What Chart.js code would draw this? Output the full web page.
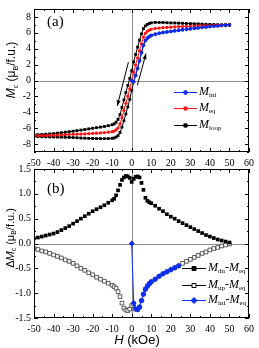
<!DOCTYPE html>
<html>
<head>
<meta charset="utf-8">
<script src="https://cdn.jsdelivr.net/npm/chart.js@4.4.0/dist/chart.umd.min.js"></script>
<style>
  html, body { margin: 0; padding: 0; background: #fff; }
  #wrap { position: relative; width: 259px; height: 348px; overflow: hidden; }
  canvas { position: absolute; left: 0; }
  #chartA { top: 0; }
  #chartB { top: 160px; }
</style>
</head>
<body>
<div id="wrap">
  <canvas id="chartA" width="259" height="170"></canvas>
  <canvas id="chartB" width="259" height="188"></canvas>
</div>
<script>
// field grid (kOe)
const H = [-50,-48,-46,-44,-42,-40,-38,-36,-34,-32,-30,-28,-26,-24,-22,-20,-18,-16,-14,-12,-10,
    -9,-8,-7,-6,-5,-4,-3,-2,-1, 0, 1,2,3,4,5,6,7,8,9,
    10,12,14,16,18,20,22,24,26,28,30,32,34,36,38,40,42,44,46,48,50];

// panel (a)
const M_eq = [-6.95,-6.94,-6.93,-6.92,-6.90,-6.88,-6.86,-6.84,-6.82,-6.80,-6.78,-6.76,-6.74,-6.72,-6.69,-6.66,-6.63,-6.60,-6.56,-6.51,-6.44,
    -6.36,-6.22,-5.97,-5.47,-4.67,-3.77,-2.87,-1.97,-1.05, 0,
    1.05,1.95,2.85,3.75,4.65,5.45,5.95,6.20,6.35,
    6.45,6.55,6.60,6.65,6.68,6.71,6.74,6.77,6.79,6.81,6.83,6.85,6.87,6.89,6.91,6.92,6.94,6.95,6.96,6.98,7.00];
const M_dn = [-6.85,-6.82,-6.79,-6.76,-6.72,-6.68,-6.63,-6.57,-6.51,-6.45,-6.38,-6.31,-6.24,-6.17,-6.09,-6.01,-5.94,-5.87,-5.79,-5.69,-5.57,
    -5.46,-5.25,-4.90,-4.29,-3.39,-2.44,-1.51,-0.62,0.27, 1.24,
    2.35,3.29,4.20,5.08,5.87,6.53,6.87,7.06,7.18,
    7.26,7.31,7.30,7.30,7.27,7.25,7.24,7.22,7.20,7.18,7.16,7.14,7.12,7.10,7.08,7.06,7.05,7.03,7.02,7.02,7.02];
const M_up = [-7.05,-7.06,-7.08,-7.09,-7.10,-7.11,-7.12,-7.13,-7.15,-7.16,-7.18,-7.21,-7.24,-7.26,-7.28,-7.29,-7.31,-7.32,-7.32,-7.31,-7.28,
    -7.23,-7.12,-6.94,-6.54,-5.87,-5.07,-4.21,-3.32,-2.37, -1.25,
    -0.17,0.63,1.52,2.47,3.50,4.43,5.03,5.34,5.54,
    5.68,5.83,5.94,6.04,6.11,6.18,6.25,6.32,6.39,6.45,6.51,6.57,6.63,6.69,6.74,6.79,6.84,6.87,6.91,6.95,6.99];
const H_ini = [0,1,2,3,4,5,6,7,8,9,10,12,14,16,18,20,22,24,26,28,30,32,34,36,38,40,42,44,46,48,50];
const M_ini = [0,-0.15,0.63,1.52,2.47,3.50,4.43,5.03,5.34,5.54,
    5.68,5.83,5.94,6.04,6.11,6.18,6.25,6.32,6.39,6.45,6.51,6.57,6.63,6.69,6.74,6.79,6.84,6.87,6.91,6.95,6.99];

// panel (b)
const dM_dn = [0.10,0.12,0.14,0.16,0.18,0.20,0.23,0.27,0.31,0.35,0.40,0.45,0.50,0.55,0.60,0.65,0.69,0.73,0.77,0.82,0.87,
    0.90,0.97,1.07,1.18,1.28,1.33,1.36,1.35,1.32, 1.24,
    1.30,1.34,1.35,1.33,1.22,1.08,0.92,0.86,0.83,
    0.81,0.76,0.70,0.65,0.59,0.54,0.50,0.45,0.41,0.37,0.33,0.29,0.25,0.21,0.17,0.14,0.11,0.08,0.06,0.04,0.02];
const dM_up = [-0.10,-0.12,-0.15,-0.17,-0.20,-0.23,-0.26,-0.29,-0.33,-0.36,-0.40,-0.45,-0.50,-0.54,-0.59,-0.63,-0.68,-0.72,-0.76,-0.80,-0.84,
    -0.87,-0.90,-0.97,-1.07,-1.20,-1.30,-1.34,-1.35,-1.32, -1.25,
    -1.22,-1.32,-1.33,-1.28,-1.15,-1.02,-0.92,-0.86,-0.81,
    -0.77,-0.72,-0.66,-0.61,-0.57,-0.53,-0.49,-0.45,-0.40,-0.36,-0.32,-0.28,-0.24,-0.20,-0.17,-0.13,-0.10,-0.08,-0.05,-0.03,-0.01];
const H_ini_b = [0,1,2,3,4,5,6,7,8,9,10,12,14,16,18,20,22,24];
const dM_ini = [0.00,-1.20,-1.32,-1.33,-1.28,-1.15,-1.02,-0.92,-0.86,-0.81,-0.77,-0.72,-0.66,-0.61,-0.57,-0.53,-0.49,-0.45];

// ticks
const ticksX = [-50,-40,-30,-20,-10,0,10,20,30,40,50,60];
const ticksYa = [-8,-6,-4,-2,0,2,4,6,8];
const ticksYb = [-1.5,-1.0,-0.5,0.0,0.5,1.0,1.5];

// sweep arrows on the loop [H1, M1, H2, M2] (head at 2)
const arrows = [[-1.7, 2.3, -7.4, -3.2], [2.9, -0.6, 7.3, 3.4]];

const BLUE = '#0a2cff';
const RED = '#ff1010';
const SERIF = '"Liberation Serif", "Times New Roman", serif';
const SANS = '"Liberation Sans", Arial, sans-serif';

function pts(xs, ys) {
    return xs.map((x, i) => ({ x: x, y: ys[i] }));
}

// loop: down branch from +50 to -50, then up branch back to +50
const loopPts = pts(H.slice().reverse(), M_dn.slice().reverse()).concat(pts(H, M_up));

function marker(ctx, style, x, y, r, fill, stroke) {
    ctx.save();
    ctx.beginPath();
    if (style === 'rect') {
        ctx.rect(x - r, y - r, 2 * r, 2 * r);
    } else if (style === 'rectRot') {
        ctx.moveTo(x, y - r); ctx.lineTo(x + r, y); ctx.lineTo(x, y + r); ctx.lineTo(x - r, y); ctx.closePath();
    } else {
        ctx.arc(x, y, r, 0, Math.PI * 2);
    }
    ctx.fillStyle = fill;
    ctx.fill();
    ctx.strokeStyle = stroke;
    ctx.lineWidth = 1;
    ctx.stroke();
    ctx.restore();
}

// parts: [text, kind]  kind: 'i' italic, 'n' normal, 's' subscript
function richText(ctx, parts, x, y, size, family, measureOnly) {
    let w = 0;
    for (const p of parts) {
        let f;
        if (p[1] === 'i') f = 'italic ' + size + 'px ' + family;
        else if (p[1] === 's') f = Math.round(size * 0.62) + 'px ' + family;
        else f = size + 'px ' + family;
        ctx.font = f;
        if (!measureOnly) ctx.fillText(p[0], x + w, y + (p[1] === 's' ? size * 0.3 : 0));
        w += ctx.measureText(p[0]).width;
    }
    return w;
}

function frameTicks(chart, xMinor, yMinor) {
    const ctx = chart.ctx;
    const a = chart.chartArea;
    const xs = chart.scales.x, ys = chart.scales.y;
    ctx.save();
    ctx.strokeStyle = '#000';
    ctx.lineWidth = 1;
    ctx.strokeRect(Math.round(a.left) + 0.5, Math.round(a.top) + 0.5, Math.round(a.right - a.left) - 1, Math.round(a.bottom - a.top) - 1);
    ctx.beginPath();
    for (let v = xs.min; v <= xs.max + 1e-6; v += xMinor) {
        const px = Math.round(xs.getPixelForValue(v)) + 0.5;
        const major = Math.abs(v / 10 - Math.round(v / 10)) < 1e-6;
        const L = major ? 4 : 2;
        ctx.moveTo(px, a.bottom); ctx.lineTo(px, a.bottom - L);
        ctx.moveTo(px, a.top); ctx.lineTo(px, a.top + L);
    }
    const majors = ys.ticks.map(t => t.value);
    for (let v = ys.min; v <= ys.max + 1e-6; v += yMinor) {
        const py = Math.round(ys.getPixelForValue(v)) + 0.5;
        const major = majors.some(m => Math.abs(m - v) < 1e-6);
        const L = major ? 4 : 2;
        ctx.moveTo(a.left, py); ctx.lineTo(a.left + L, py);
        ctx.moveTo(a.right, py); ctx.lineTo(a.right - L, py);
    }
    ctx.stroke();
    ctx.restore();
}

function zeroLines(chart) {
    const ctx = chart.ctx;
    const a = chart.chartArea;
    const px = Math.round(chart.scales.x.getPixelForValue(0)) + 0.5;
    const py = Math.round(chart.scales.y.getPixelForValue(0)) + 0.5;
    ctx.save();
    ctx.strokeStyle = '#8c8c8c';
    ctx.lineWidth = 1;
    ctx.beginPath();
    ctx.moveTo(a.left, py); ctx.lineTo(a.right, py);
    ctx.moveTo(px, a.top); ctx.lineTo(px, a.bottom);
    ctx.stroke();
    ctx.restore();
}

function drawLegend(ctx, items, x1, x2, tx, rows, size) {
    items.forEach((it, i) => {
        const y = rows[i];
        ctx.save();
        ctx.strokeStyle = it.line;
        ctx.lineWidth = 1;
        ctx.beginPath();
        ctx.moveTo(x1, y + 0.5); ctx.lineTo(x2, y + 0.5);
        ctx.stroke();
        ctx.restore();
        marker(ctx, it.style, (x1 + x2) / 2, y + 0.5, it.r, it.fill, it.stroke);
        ctx.fillStyle = '#000';
        ctx.textBaseline = 'middle';
        richText(ctx, it.text, tx, y, size, SERIF);
    });
}

function yTitle(ctx, parts, cx, cy, size) {
    ctx.save();
    ctx.translate(cx, cy);
    ctx.rotate(-Math.PI / 2);
    ctx.fillStyle = '#000';
    ctx.textBaseline = 'middle';
    const w = richText(ctx, parts, 0, 0, size, SANS, true);
    richText(ctx, parts, -w / 2, 0, size, SANS);
    ctx.restore();
}

function drawArrow(ctx, x1, y1, x2, y2) {
    const ang = Math.atan2(y2 - y1, x2 - x1);
    ctx.save();
    ctx.strokeStyle = '#000';
    ctx.fillStyle = '#000';
    ctx.lineWidth = 1;
    ctx.beginPath();
    ctx.moveTo(x1, y1); ctx.lineTo(x2, y2);
    ctx.stroke();
    ctx.beginPath();
    ctx.moveTo(x2, y2);
    ctx.lineTo(x2 - 6 * Math.cos(ang - 0.35), y2 - 6 * Math.sin(ang - 0.35));
    ctx.lineTo(x2 - 6 * Math.cos(ang + 0.35), y2 - 6 * Math.sin(ang + 0.35));
    ctx.closePath();
    ctx.fill();
    ctx.restore();
}

function xScale(height) {
    return {
        type: 'linear', min: -50, max: 60,
        afterBuildTicks: s => { s.ticks = ticksX.map(v => ({ value: v })); },
        afterFit: s => { s.height = height; },
        grid: { display: false, drawTicks: false },
        border: { display: false },
        ticks: { color: '#000', padding: 5, maxRotation: 0, autoSkip: false, font: { family: SERIF, size: 10 } }
    };
}

function yScale(min, max, ticks, fmt) {
    return {
        min: min, max: max,
        afterBuildTicks: s => { s.ticks = ticks.map(v => ({ value: v })); },
        afterFit: s => { s.width = 34; },
        grid: { display: false, drawTicks: false },
        border: { display: false },
        ticks: { color: '#000', padding: 3, autoSkip: false, font: { family: SERIF, size: 10 }, callback: fmt }
    };
}

const pluginA = {
    id: 'deco',
    beforeDatasetsDraw(chart) { zeroLines(chart); },
    afterDatasetsDraw(chart) {
        const ctx = chart.ctx;
        const xs = chart.scales.x, ys = chart.scales.y;
        frameTicks(chart, 5, 1);
        arrows.forEach(a => drawArrow(ctx, xs.getPixelForValue(a[0]), ys.getPixelForValue(a[1]),
            xs.getPixelForValue(a[2]), ys.getPixelForValue(a[3])));
        ctx.fillStyle = '#000';
        ctx.font = '15px ' + SERIF;
        ctx.textBaseline = 'middle';
        ctx.fillText('(a)', 47, 22);
        drawLegend(ctx, [
            { text: [['M', 'i'], ['ini', 's']], line: BLUE, style: 'rectRot', r: 2.5, fill: BLUE, stroke: BLUE },
            { text: [['M', 'i'], ['eq', 's']], line: RED, style: 'circle', r: 1.8, fill: RED, stroke: RED },
            { text: [['M', 'i'], ['loop', 's']], line: '#000', style: 'rect', r: 1.6, fill: '#000', stroke: '#000' }
        ], 174, 197, 199, [92, 108, 125], 12);
        yTitle(ctx, [['M', 'i'], ['c', 's'], [' (\u03bc', 'n'], ['B', 's'], ['/f.u.)', 'n']], 12, 70, 12);
    }
};

const pluginB = {
    id: 'deco',
    beforeDatasetsDraw(chart) { zeroLines(chart); },
    afterDatasetsDraw(chart) {
        const ctx = chart.ctx;
        frameTicks(chart, 5, 0.25);
        ctx.fillStyle = '#000';
        ctx.font = '15px ' + SERIF;
        ctx.textBaseline = 'middle';
        ctx.fillText('(b)', 47, 29);
        drawLegend(ctx, [
            { text: [['M', 'i'], ['dn', 's'], ['-', 'n'], ['M', 'i'], ['eq', 's']], line: '#000', style: 'rect', r: 2, fill: '#000', stroke: '#000' },
            { text: [['M', 'i'], ['up', 's'], ['-', 'n'], ['M', 'i'], ['eq', 's']], line: '#000', style: 'rect', r: 2, fill: '#fff', stroke: '#000' },
            { text: [['M', 'i'], ['ini', 's'], ['-', 'n'], ['M', 'i'], ['eq', 's']], line: BLUE, style: 'rectRot', r: 3, fill: BLUE, stroke: BLUE }
        ], 182, 206, 208, [108, 125, 140], 12);
        yTitle(ctx, [['\u0394', 'n'], ['M', 'i'], ['c', 's'], [' (\u03bc', 'n'], ['B', 's'], ['/f.u.)', 'n']], 11, 78, 11);
        // x title
        ctx.textBaseline = 'alphabetic';
        const parts = [['H', 'i'], [' (kOe)', 'n']];
        const w = richText(ctx, parts, 0, 0, 13, SANS, true);
        richText(ctx, parts, 137 - w / 2, 184, 13, SANS);
    }
};

new Chart(document.getElementById('chartA'), {
    type: 'scatter',
    data: {
        datasets: [
            { label: 'M_ini', data: pts(H_ini, M_ini), showLine: true, borderColor: BLUE, backgroundColor: BLUE,
              borderWidth: 1, pointStyle: 'rectRot', pointRadius: 2.2, pointBorderWidth: 0 },
            { label: 'M_eq', data: pts(H, M_eq), showLine: true, borderColor: RED, backgroundColor: RED,
              borderWidth: 1, pointStyle: 'circle', pointRadius: 1.6, pointBorderWidth: 0 },
            { label: 'M_loop', data: loopPts, showLine: true, borderColor: '#000', backgroundColor: '#000',
              borderWidth: 1, pointStyle: 'rect', pointRadius: 2, pointBorderWidth: 0 }
        ]
    },
    options: {
        responsive: false, animation: false, events: [], devicePixelRatio: 1,
        layout: { padding: { top: 1, right: 8, left: 0, bottom: 0 } },
        plugins: { legend: { display: false }, tooltip: { enabled: false } },
        scales: {
            x: xScale(18),
            y: yScale(-9, 9, ticksYa, v => String(v))
        }
    },
    plugins: [pluginA]
});

new Chart(document.getElementById('chartB'), {
    type: 'scatter',
    data: {
        datasets: [
            { label: 'M_ini-M_eq', data: pts(H_ini_b, dM_ini), showLine: true, borderColor: BLUE, backgroundColor: BLUE,
              borderWidth: 1, pointStyle: 'rectRot', pointRadius: 3, pointBorderWidth: 0 },
            { label: 'M_dn-M_eq', data: pts(H, dM_dn), showLine: false, borderColor: '#000', backgroundColor: '#000',
              pointStyle: 'rect', pointRadius: 2.6, pointBorderWidth: 0 },
            { label: 'M_up-M_eq', data: pts(H, dM_up), showLine: false, borderColor: '#333', backgroundColor: '#fff',
              pointStyle: 'rect', pointRadius: 2.6, pointBorderWidth: 0.8 }
        ]
    },
    options: {
        responsive: false, animation: false, events: [], devicePixelRatio: 1,
        layout: { padding: { top: 9, right: 8, left: 0, bottom: 0 } },
        plugins: { legend: { display: false }, tooltip: { enabled: false } },
        scales: {
            x: xScale(30),
            y: yScale(-1.5, 1.5, ticksYb, v => v.toFixed(1))
        }
    },
    plugins: [pluginB]
});
</script>
</body>
</html>
